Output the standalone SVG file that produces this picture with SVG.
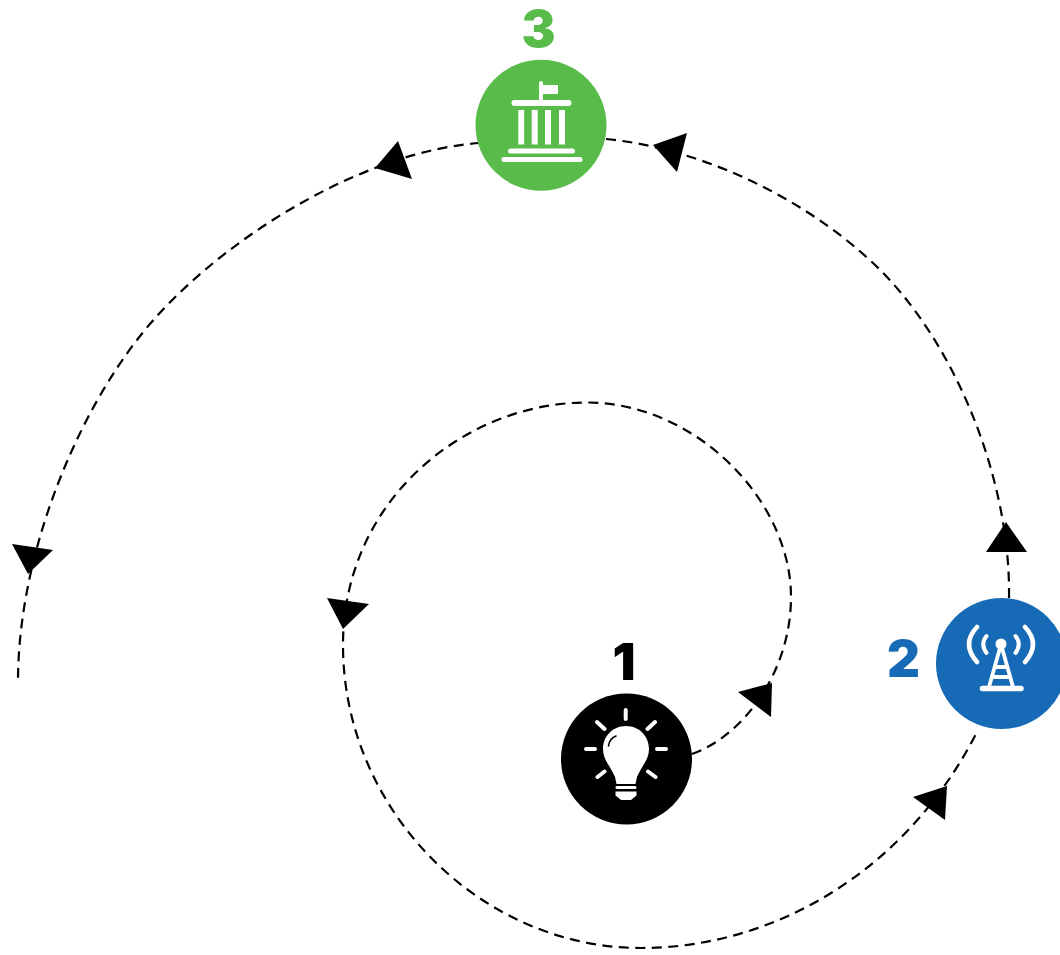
<svg xmlns="http://www.w3.org/2000/svg" width="1060" height="955" viewBox="0 0 1060 955">
<style>
.c{fill:none;stroke:#000;stroke-width:2.2;stroke-dasharray:10 6.500}
.a{fill:#000}
.n{font-family:"Inter","Liberation Sans",sans-serif;font-weight:900;font-size:51px;text-anchor:middle}
.w{fill:none;stroke:#fff;stroke-linecap:round}
.f{fill:#fff}
</style>
<rect width="1060" height="955" fill="#fff"/>
<g id="connectors">
<path class="c" d="M692 754C745 735 791 670 791 597C791 500 695 402.500 587 402.500C465 402.500 343 500 343 645C343 810 480 948 641 948C770 948 905 875 978 730"/>
<path class="c" d="M1009 598C1011 480 955 340 873 263C795 190 690 147 606 139"/>
<path class="c" d="M480 143C375 150 240 225 157 316C85 395 18 545 18 682"/>
<polygon class="a" points="738,692 772,683 771,717"/>
<polygon class="a" points="913,797 947,786 945,820"/>
<polygon class="a" points="1006,522 986,552 1027,552"/>
<polygon class="a" points="687,133 653,145 677,172"/>
<polygon class="a" points="398,141 375,168 412,179"/>
<polygon class="a" points="12,544 53,550 28,574"/>
<polygon class="a" points="327,598 369,604 343,629"/>
</g>
<g id="node1">
<circle cx="626.500" cy="759" r="65.500" fill="#000"/>
<path class="w" stroke-width="4" d="M625.700 710V719M597 722L604.500 729M655 722L647.500 729M586 749H595M657 749H666M597.500 777L604.500 771.500M655.500 777L648 771.500"/>
<path class="f" d="M626 726C612 726 603 737 603 749C603 760 611 767 615 777L616.500 784H635.500L637 777C641 767 649 760 649 749C649 737 640 726 626 726Z"/>
<path class="w" stroke-width="3" d="M617 787.500H635"/>
<path class="f" d="M615.500 791.500H636.500V795.500L631 800H621L615.500 795.500Z"/>
<path d="M608.500 746C609 741.500 612 737.500 616 736" fill="none" stroke="#000" stroke-width="1.600" stroke-linecap="round"/>
<text class="n" x="624" y="680" fill="#000">1</text>
</g>
<g id="node2">
<circle cx="1001.500" cy="663.500" r="65.500" fill="#176bb6"/>
<path class="w" stroke-width="4.500" d="M977 627Q961 644 977 662M1025 627Q1041 644 1025 662"/>
<path class="w" stroke-width="4" d="M986.500 636Q980 644 986.500 653M1015.500 636Q1022 644 1015.500 653"/>
<circle class="f" cx="1001" cy="644" r="5.500"/>
<path class="w" stroke-width="3.800" d="M1000 648L989 687M1002 648L1013 687M996 667H1006M993 677H1009"/>
<path class="w" stroke-width="5.500" d="M982.500 688.500H1021"/>
<text class="n" x="903.500" y="677" fill="#176bb6">2</text>
</g>
<g id="node3">
<circle cx="541" cy="125.300" r="65.500" fill="#58bb4a"/>
<path class="w" stroke-width="4" d="M541 83V99"/>
<path class="f" d="M541 85H558V94H541Z"/>
<rect class="f" x="511.500" y="100" width="60" height="6" rx="3"/>
<path class="f" d="M518.300 110H524.200V144.500H518.300ZM531.700 110H537.700V144.500H531.700ZM545 110H551V144.500H545ZM559 110H565V144.500H559Z"/>
<rect class="f" x="508" y="148.500" width="67" height="5" rx="2.500"/>
<rect class="f" x="501.500" y="157" width="81" height="5" rx="2.500"/>
<text class="n" x="538.500" y="47" fill="#58bb4a">3</text>
</g>
</svg>
